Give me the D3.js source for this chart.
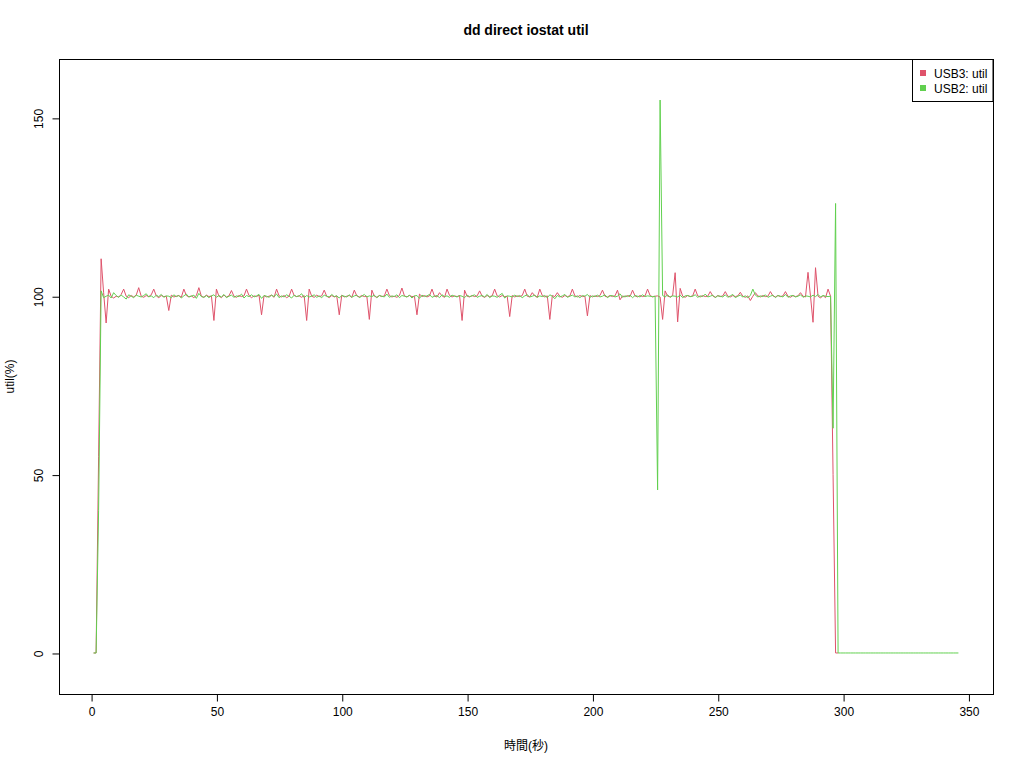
<!DOCTYPE html>
<html>
<head>
<meta charset="utf-8">
<script src="https://cdn.jsdelivr.net/npm/d3@7"></script>
<style>
  html, body { margin: 0; padding: 0; background: #fff; }
  svg text { font-family: "Liberation Sans", Arial, "Noto Sans CJK JP", sans-serif; }
</style>
</head>
<body>
<svg id="chart" width="1024" height="768"></svg>
<script>
const title = "dd direct iostat util";
const xLabel = "時間(秒)";
const yLabel = "util(%)";
const seriesNames = ["USB3: util", "USB2: util"];
const seriesColors = ["#DF536B", "#61D04F"];
const xTicks = [0, 50, 100, 150, 200, 250, 300, 350];
const yTicks = [0, 50, 100, 150];

// USB3 util, one value per second starting at t = 1
const usb3 = [
  0, 0, 55, 110.5, 101, 92.5, 102, 100, 99.5, 100,
  99.8, 100.5, 102, 100, 99.6, 100.2, 99.8, 100.3, 102.4, 100,
  99.7, 100.2, 99.9, 100.4, 102, 100.1, 99.6, 100.2, 99.9, 100,
  96, 100.3, 99.8, 100, 100.2, 99.7, 102, 100.2, 99.8, 100.1,
  99.6, 100.2, 102.4, 100, 99.7, 100.3, 99.9, 100.1, 93.2, 102,
  100, 99.6, 100.3, 99.8, 100.1, 101.6, 100, 99.7, 100.2, 99.9,
  100.1, 102, 100.2, 99.6, 100.1, 99.9, 100.3, 94.8, 100.2, 99.8,
  100, 100.3, 99.7, 102, 100.1, 99.8, 100.2, 99.6, 100, 102,
  100.2, 99.9, 100.1, 99.7, 100.2, 93.2, 102, 100, 99.7, 100.3,
  99.9, 100.1, 101.7, 100, 99.6, 100.2, 99.8, 100.1, 94.8, 100.3,
  99.8, 100, 100.2, 99.7, 101.7, 100.1, 99.8, 100.2, 99.9, 100,
  93.5, 101.7, 100, 99.7, 100.2, 99.9, 100.1, 102, 100.2, 99.8,
  100, 99.7, 100.2, 102.3, 100.1, 99.8, 100.2, 99.9, 100, 94.8,
  100.6, 99.9, 100.2, 99.8, 100.1, 102, 100, 99.8, 101, 100.1,
  99.7, 102, 100.2, 99.8, 100.1, 99.9, 100.2, 93.2, 101.7, 100,
  99.8, 100.2, 99.9, 100.1, 101.5, 100, 99.7, 100.2, 99.9, 100.1,
  102, 100.1, 99.8, 100.2, 99.9, 100, 94.3, 100.2, 99.8, 100.1,
  99.9, 100.2, 102, 100, 99.8, 101, 100.1, 99.7, 102, 100.2,
  99.8, 100.1, 93.5, 100.2, 99.9, 101, 100, 99.7, 100.2, 99.9,
  100.1, 102, 100.1, 99.8, 100.2, 99.9, 100, 94.5, 100.2, 99.8,
  100.1, 99.9, 100.2, 101.7, 100, 99.8, 100.2, 99.9, 100.1, 101.7,
  99, 100.1, 99.8, 100.2, 99.9, 101.7, 100.1, 99.8, 100.2, 99.9,
  100.1, 102, 100.2, 99.8, 100, 100.1, 99.8, 93.5, 101.5, 100,
  99.8, 100.2, 106.6, 92.8, 102.2, 100, 99.7, 100.2, 99.9, 100.1,
  102, 100.1, 99.8, 100.2, 99.9, 100, 101.3, 100.1, 99.7, 100.2,
  99.9, 100.1, 101.3, 100, 99.8, 100.2, 99.9, 100.1, 101.1, 100,
  99.7, 100.1, 98.8, 100, 101, 100.1, 99.8, 100.2, 99.9, 100,
  101.3, 100.1, 99.8, 100.2, 99.9, 100.1, 101.3, 100, 99.7, 100.2,
  99.9, 100.1, 101, 100, 99.8, 106.7, 100, 92.7, 108, 100,
  99.5, 100.2, 99.6, 102, 100, 50, 0, 0
];

// USB2 util, one value per second starting at t = 1
const usb2 = [
  0, 0, 40, 101.5, 99.6, 100, 100.3, 99.5, 101, 100.2,
  99.7, 100.3, 99.8, 99.2, 100.4, 100, 99.6, 100.3, 100, 99.8,
  100.2, 100.7, 99.8, 100.1, 99.6, 100.3, 99.9, 100.5, 99.7, 100.1,
  100, 99.6, 100.4, 99.9, 100.2, 99.5, 100.1, 100.6, 99.8, 100,
  100.3, 99.4, 100.8, 99.9, 99.7, 100.2, 99.6, 100.1, 100.4, 99.7,
  100.2, 99.8, 100.5, 99.6, 100, 100.3, 99.7, 100.1, 99.9, 100.6,
  99.5, 100.2, 99.9, 100.4, 99.8, 100.1, 100.5, 99.4, 100.2, 100,
  99.7, 100.3, 99.9, 100.6, 99.6, 100.1, 99.8, 100.4, 100, 99.5,
  100.3, 99.9, 100.1, 100.7, 99.6, 100.2, 99.8, 100, 100.4, 99.7,
  100.1, 99.6, 100.3, 100, 99.8, 100.5, 99.9, 100.1, 99.5, 100.2,
  100, 99.8, 100.4, 99.7, 100.1, 100.3, 99.6, 100, 100.5, 99.8,
  100.1, 99.9, 100.3, 99.6, 100.2, 100, 99.8, 100.6, 99.7, 100.1,
  99.9, 100.4, 99.6, 100.2, 100, 99.8, 100.3, 99.5, 100.1, 100.2,
  99.4, 100.3, 99.9, 100.1, 100.5, 99.7, 100, 100.2, 99.6, 100.4,
  99.9, 100.1, 99.7, 100.3, 100, 99.8, 100.2, 100, 99.6, 100.3,
  99.9, 100.1, 100.4, 99.7, 100, 100.2, 99.8, 100.5, 99.6, 100.1,
  100, 99.7, 100.3, 100.8, 99.5, 100.1, 100, 99.8, 100.3, 99.9,
  100.2, 99.6, 100.1, 100.4, 99.8, 100, 100.3, 99.7, 100.1, 99.9,
  100.2, 99.6, 100.4, 100, 99.3, 100.2, 99.8, 100.1, 100.5, 99.7,
  100, 100.3, 99.8, 100.1, 99.6, 100.2, 100, 100.5, 99.7, 100.1,
  99.9, 100.3, 99.8, 100, 100.4, 99.6, 100.1, 100.2, 99.8, 100,
  100.7, 99.7, 100.1, 99.9, 100.3, 99.6, 100.2, 100, 99.8, 100.4,
  99.9, 100.1, 100, 99.9, 100, 45.7, 155, 100.2, 99.8, 100.4,
  99.7, 100.1, 100, 99.8, 100.3, 99.6, 100.1, 100.2, 99.9, 100,
  100.4, 99.7, 100.1, 99.9, 100.6, 99.8, 100, 100.3, 99.6, 100.1,
  100, 99.8, 100.4, 99.7, 100.1, 100.5, 99.6, 100, 100.3, 99.8,
  100.1, 99.6, 100.2, 102, 100.3, 99.8, 100.1, 99.9, 100.4, 99.7,
  100, 100.3, 99.6, 100.2, 100, 99.8, 100.5, 99.7, 100.1, 100.2,
  99.8, 100, 100.4, 99.7, 100.1, 100, 99.8, 100.3, 99.9, 100.5,
  99.8, 100.2, 100, 99.9, 100, 63, 126, 0,
  0, 0, 0, 0, 0, 0, 0, 0, 0, 0, 0, 0,
  0, 0, 0, 0, 0, 0, 0, 0, 0, 0, 0, 0,
  0, 0, 0, 0, 0, 0, 0, 0, 0, 0, 0, 0,
  0, 0, 0, 0, 0, 0, 0, 0, 0, 0, 0, 0
];

const series = [usb3, usb2];

const svg = d3.select("#chart");
const plot = { left: 59, right: 993, top: 59, bottom: 694 };

const x = d3.scaleLinear().domain([-12.8, 359.8]).range([plot.left, plot.right]);
const y = d3.scaleLinear().domain([-11.5, 166.5]).range([plot.bottom, plot.top]);

// lines
const line = d3.line().x((d, i) => x(i + 1)).y(d => y(d));
series.forEach((s, k) => {
  svg.append("path")
    .datum(s)
    .attr("fill", "none")
    .attr("stroke", seriesColors[k])
    .attr("stroke-width", 1)
    .attr("stroke-linejoin", "round")
    .attr("d", line);
});

// box
svg.append("rect")
  .attr("x", plot.left + 0.5).attr("y", plot.top + 0.5)
  .attr("width", plot.right - plot.left).attr("height", plot.bottom - plot.top)
  .attr("fill", "none").attr("stroke", "#000").attr("stroke-width", 1);

// x axis
const xAxis = d3.axisBottom(x).tickValues(xTicks).tickSize(7).tickPadding(6).tickSizeOuter(0);
const gx = svg.append("g").attr("transform", `translate(0.5,${plot.bottom + 0.5})`).call(xAxis);
gx.select(".domain").attr("d", `M${x(xTicks[0])},0H${x(xTicks[xTicks.length - 1])}`);
gx.selectAll("text").attr("font-size", 12).attr("fill", "#000")
  .attr("font-family", "'Liberation Sans', Arial, sans-serif");

// y axis
const yAxis = d3.axisLeft(y).tickValues(yTicks).tickSize(7).tickPadding(6).tickSizeOuter(0);
const gy = svg.append("g").attr("transform", `translate(${plot.left + 0.5},0.5)`).call(yAxis);
gy.select(".domain").attr("d", `M0,${y(yTicks[0])}V${y(yTicks[yTicks.length - 1])}`);
gy.selectAll("text")
  .attr("font-size", 12).attr("fill", "#000")
  .attr("font-family", "'Liberation Sans', Arial, sans-serif")
  .attr("text-anchor", "middle")
  .attr("dy", null)
  .attr("x", 0)
  .attr("y", 0)
  .attr("transform", "translate(-17,0) rotate(-90)");

// title
svg.append("text").attr("x", (plot.left + plot.right) / 2).attr("y", 35)
  .attr("text-anchor", "middle").attr("font-size", 14).attr("font-weight", "bold")
  .text(title);

// axis labels
svg.append("text").attr("x", (plot.left + plot.right) / 2).attr("y", 750)
  .attr("text-anchor", "middle").attr("font-size", 12).text(xLabel);
svg.append("text")
  .attr("transform", `translate(14,${(plot.top + plot.bottom) / 2}) rotate(-90)`)
  .attr("text-anchor", "middle").attr("font-size", 12).text(yLabel);

// legend
const lg = svg.append("g");
lg.append("rect").attr("x", 912.5).attr("y", 59.5).attr("width", 80.5).attr("height", 42)
  .attr("fill", "#fff").attr("stroke", "#000");
seriesNames.forEach((n, k) => {
  const cy = 73 + k * 15;
  lg.append("rect").attr("x", 920).attr("y", cy - 3).attr("width", 6).attr("height", 6)
    .attr("fill", seriesColors[k]);
  lg.append("text").attr("x", 934).attr("y", cy + 4.5).attr("font-size", 12).text(n);
});
</script>
</body>
</html>
